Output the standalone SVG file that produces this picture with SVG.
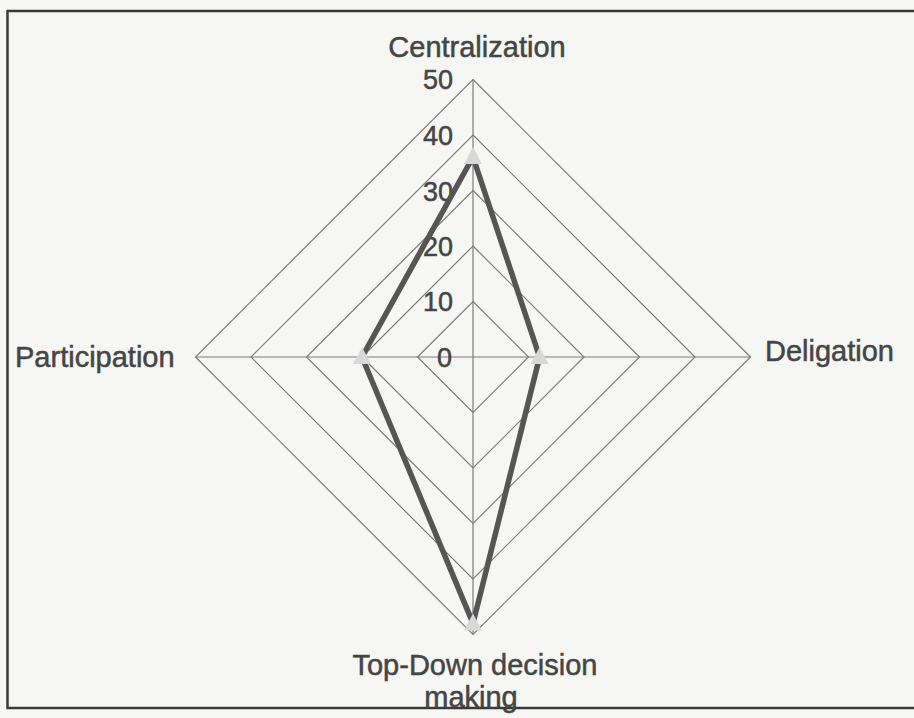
<svg xmlns="http://www.w3.org/2000/svg" width="914" height="718" viewBox="0 0 914 718">
<style>
.grid{fill:none;stroke:#7c7c7c;stroke-width:1.2}
.lbl{font-family:"Liberation Sans",Arial,sans-serif;fill:#454545;stroke:#454545;stroke-width:0.5}
.cat{font-size:29px}
.tick{font-size:27px}
.series{fill:none;stroke:#555;stroke-width:5.5;stroke-linejoin:round}
.mk{fill:#d8d8d8;stroke:none}
</style>
<defs>
<polygon id="tri" points="0,-10 9,7 -9,7"/>
</defs>
<rect x="0" y="0" width="914" height="718" fill="#f6f6f5"/>
<rect x="7.5" y="11" width="912" height="697" fill="none" stroke="#3a3a3a" stroke-width="2.5"/>
<g id="grid">
<polygon class="grid" points="473,301.5 528.5,357 473,412.5 417.5,357"/>
<polygon class="grid" points="473,246 584,357 473,468 362,357"/>
<polygon class="grid" points="473,190.5 639.5,357 473,523.5 306.5,357"/>
<polygon class="grid" points="473,135 695,357 473,579 251,357"/>
<polygon class="grid" points="473,79.5 750.5,357 473,634.5 195.5,357"/>
<line class="grid" x1="473" y1="79.5" x2="473" y2="634.5"/>
<line class="grid" x1="195.5" y1="357" x2="750.5" y2="357"/>
</g>
<g id="ticks" class="lbl tick" text-anchor="end">
<text x="452" y="367">0</text>
<text x="453" y="311">10</text>
<text x="453" y="256">20</text>
<text x="453" y="201">30</text>
<text x="453" y="145">40</text>
<text x="453" y="89">50</text>
</g>
<g id="series">
<polygon class="series" points="473,157 539.6,357 473,623.4 362,357"/>
</g>
<g id="markers">
<use href="#tri" class="mk" x="473" y="157"/>
<use href="#tri" class="mk" x="539.6" y="357"/>
<use href="#tri" class="mk" x="473" y="623.4"/>
<use href="#tri" class="mk" x="362" y="357"/>
</g>
<g id="node-centralization"><text class="lbl cat" x="477" y="57" text-anchor="middle">Centralization</text></g>
<g id="node-deligation"><text class="lbl cat" x="765" y="361">Deligation</text></g>
<g id="node-participation"><text class="lbl cat" x="15" y="367">Participation</text></g>
<g id="node-topdown"><text class="lbl cat" x="475" y="675" text-anchor="middle">Top-Down decision</text><text class="lbl cat" x="471" y="707" text-anchor="middle">making</text></g>
</svg>
